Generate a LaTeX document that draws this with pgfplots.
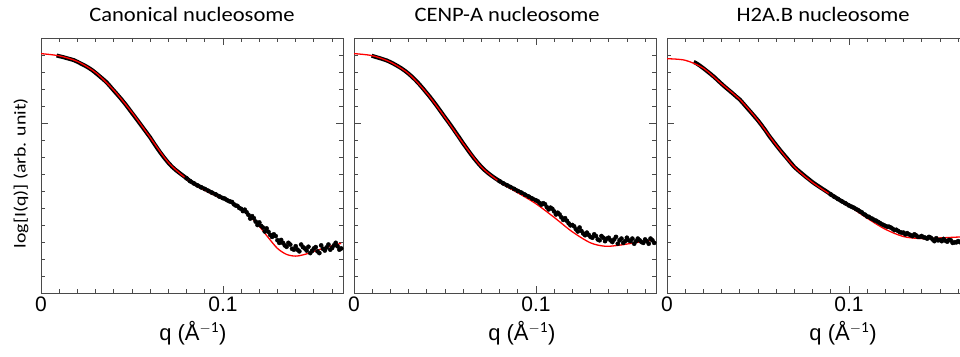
\documentclass[border=0pt]{standalone}
\usepackage{pgfplots}
\pgfplotsset{compat=1.18}
\usepackage{fontspec}
\setmainfont{Carlito}
\newfontfamily\titlefont[FakeStretch=1.1]{Carlito}
\newfontfamily\ylabfont[FakeStretch=1.2]{Carlito}
\newfontfamily\tickfont{Liberation Sans}
\definecolor{axgray}{HTML}{4A4A4A}

\pgfplotsset{panel/.style={
  scale only axis, width=302pt, height=255pt,
  xmin=0, xmax=0.166, ymin=0, ymax=15,
  xtick={0,0.1}, xticklabels={0,0.1},
  minor xtick={0.01,0.02,0.03,0.04,0.05,0.06,0.07,0.08,0.09,0.11,0.12,0.13,0.14,0.15,0.16},
  ytick={10}, yticklabels={},
  minor ytick={1,2,3,4,5,6,7,8,9,11,12,13,14},
  tick align=inside, major tick length=7pt, minor tick length=4pt,
  axis line style={axgray, line width=0.9pt},
  tick style={axgray, line width=0.8pt},
  minor tick style={axgray, line width=0.8pt},
  xticklabel style={font=\tickfont\fontsize{21}{21}\selectfont, text=black},
  xlabel={q (Å$^{\mathrm{-1}}$)},
  xlabel style={font=\tickfont\fontsize{22}{22}\selectfont, anchor=center},
  title style={font=\titlefont\fontsize{20.5}{20.5}\selectfont, anchor=center, yshift=18pt},
  band/.style={black, line width=4pt, no marks},
  data/.style={only marks, mark=*, mark size=2.1pt, black},
  fit/.style={red, line width=1.3pt, smooth, no marks},
}}

\begin{document}
\begin{tikzpicture}
\useasboundingbox (0pt,0pt) rectangle (960pt,356pt);
\clip (0pt,0pt) rectangle (960pt,356pt);

% ---------------- Panel 1 ----------------
\begin{axis}[panel, at={(41pt,63pt)}, anchor=south west,
  title={Canonical nucleosome}, title style={at={(axis description cs:0.5,1)}},
  xlabel style={at={(axis description cs:0.503,-0.157)}},
  ylabel={log[I(q)] (arb. unit)},
  ylabel style={font=\ylabfont\fontsize{16.5}{16.5}\selectfont, at={(axis description cs:-0.066,0.47)}, anchor=center}]
\addplot[band] coordinates {
(0.0086,13.97)(0.010,13.93)(0.012,13.88)(0.014,13.82)(0.016,13.76)(0.018,13.70)
(0.020,13.60)(0.022,13.49)(0.024,13.38)(0.026,13.26)(0.028,13.12)(0.030,12.95)
(0.032,12.77)(0.034,12.59)(0.036,12.40)(0.038,12.16)(0.040,11.91)(0.042,11.67)
(0.044,11.42)(0.046,11.16)(0.048,10.88)(0.050,10.59)(0.052,10.31)(0.054,10.02)
(0.056,9.73)(0.058,9.44)(0.060,9.15)(0.062,8.82)(0.064,8.50)(0.066,8.20)
(0.068,7.92)(0.070,7.66)(0.072,7.43)(0.074,7.24)(0.076,7.07)(0.078,6.91)
(0.080,6.75)(0.082,6.58)(0.084,6.45)(0.086,6.33)(0.088,6.22)(0.090,6.12)
(0.092,6.01)(0.094,5.90)(0.096,5.80)(0.098,5.68)(0.100,5.58)
};
\addplot[data] coordinates {
(0.080,6.75)(0.082,6.58)(0.084,6.45)(0.086,6.33)(0.088,6.22)(0.090,6.12)
(0.092,6.01)(0.094,5.90)(0.096,5.80)(0.098,5.68)(0.100,5.58)
(0.101,5.55)(0.102,5.48)(0.103,5.42)(0.104,5.38)(0.105,5.35)(0.106,5.22)
(0.107,5.15)(0.108,5.12)(0.109,5.00)(0.110,4.95)(0.111,4.82)(0.112,4.90)
(0.113,4.75)(0.114,4.60)(0.115,4.38)(0.116,4.52)(0.117,4.40)(0.118,4.20)
(0.119,4.00)(0.120,4.15)(0.121,3.95)(0.122,3.85)(0.123,3.62)(0.124,3.80)
(0.125,3.60)(0.126,3.42)(0.127,3.30)(0.128,3.45)(0.129,3.35)(0.130,3.10)
(0.131,2.95)(0.132,3.12)(0.133,2.95)(0.134,2.80)(0.135,2.72)(0.136,2.95)
(0.137,2.85)(0.138,2.60)(0.139,2.55)(0.140,2.75)(0.141,2.55)(0.142,2.45)
(0.143,2.85)(0.144,2.70)(0.145,2.62)(0.146,2.50)(0.147,2.72)(0.148,2.35)
(0.149,2.48)(0.150,2.62)(0.151,2.70)(0.152,2.45)(0.153,2.35)(0.154,2.80)
(0.155,2.60)(0.156,2.50)(0.157,2.68)(0.158,2.85)(0.159,2.55)(0.160,2.65)
(0.161,2.80)(0.162,2.95)(0.163,2.75)(0.164,2.55)(0.165,2.62)
};
\addplot[fit] coordinates {
(0,14.08)(0.01,13.95)(0.02,13.62)(0.03,12.97)(0.04,11.93)(0.05,10.62)
(0.06,9.15)(0.07,7.68)(0.08,6.72)(0.09,6.05)(0.10,5.55)(0.105,5.30)
(0.11,4.95)(0.115,4.50)(0.12,3.92)(0.125,3.25)(0.13,2.62)(0.135,2.27)
(0.14,2.17)(0.145,2.27)(0.15,2.45)(0.155,2.62)(0.16,2.78)(0.165,2.92)
};
\end{axis}

% ---------------- Panel 2 ----------------
\begin{axis}[panel, at={(354pt,63pt)}, anchor=south west,
  title={CENP-A nucleosome}, title style={at={(axis description cs:0.507,1)}},
  xlabel style={at={(axis description cs:0.556,-0.157)}}]
\addplot[band] coordinates {
(0.0097,13.96)(0.012,13.88)(0.014,13.82)(0.016,13.75)(0.018,13.68)
(0.020,13.58)(0.022,13.47)(0.024,13.35)(0.026,13.22)(0.028,13.07)(0.030,12.90)
(0.032,12.71)(0.034,12.50)(0.036,12.27)(0.038,12.02)(0.040,11.76)(0.042,11.50)
(0.044,11.22)(0.046,10.93)(0.048,10.63)(0.050,10.33)(0.052,10.04)(0.054,9.74)
(0.056,9.43)(0.058,9.12)(0.060,8.80)(0.062,8.50)(0.064,8.20)(0.066,7.92)
(0.068,7.66)(0.070,7.42)(0.072,7.21)(0.074,7.03)(0.076,6.87)(0.078,6.72)
(0.080,6.58)(0.082,6.45)(0.084,6.34)(0.086,6.23)(0.088,6.12)(0.090,6.00)
(0.092,5.90)(0.094,5.78)(0.096,5.67)(0.098,5.55)(0.100,5.45)
};
\addplot[data] coordinates {
(0.080,6.58)(0.082,6.45)(0.084,6.34)(0.086,6.23)(0.088,6.12)(0.090,6.00)
(0.092,5.90)(0.094,5.78)(0.096,5.67)(0.098,5.55)(0.100,5.45)
(0.101,5.40)(0.102,5.30)(0.103,5.20)(0.104,5.28)(0.105,5.22)(0.106,5.05)
(0.107,4.92)(0.108,5.02)(0.109,4.95)(0.110,4.80)(0.111,4.62)(0.112,4.72)
(0.113,4.62)(0.114,4.45)(0.115,4.30)(0.116,4.40)(0.117,4.25)(0.118,4.10)
(0.119,3.98)(0.120,4.00)(0.121,3.92)(0.122,3.75)(0.123,3.62)(0.124,3.85)
(0.125,3.65)(0.126,3.50)(0.127,3.40)(0.128,3.55)(0.129,3.42)(0.130,3.30)
(0.131,3.25)(0.132,3.45)(0.133,3.35)(0.134,3.15)(0.135,3.10)(0.136,3.35)
(0.137,3.25)(0.138,3.05)(0.139,3.20)(0.140,3.25)(0.141,3.10)(0.142,3.00)
(0.143,3.15)(0.144,3.30)(0.145,2.90)(0.146,3.10)(0.147,3.20)(0.148,2.95)
(0.149,3.05)(0.150,3.25)(0.151,3.10)(0.152,3.05)(0.153,3.20)(0.154,2.90)
(0.155,3.05)(0.156,3.20)(0.157,3.10)(0.158,3.00)(0.159,2.95)(0.160,3.15)
(0.161,3.05)(0.162,2.90)(0.163,3.20)(0.164,3.10)(0.165,2.95)
};
\addplot[fit] coordinates {
(0,14.08)(0.01,13.96)(0.02,13.58)(0.03,12.90)(0.04,11.76)(0.05,10.33)
(0.06,8.80)(0.07,7.42)(0.08,6.54)(0.09,5.90)(0.10,5.25)(0.11,4.45)
(0.12,3.60)(0.13,2.95)(0.138,2.75)(0.145,2.80)(0.15,2.88)(0.16,3.04)(0.165,3.10)
};
\end{axis}

% ---------------- Panel 3 ----------------
\begin{axis}[panel, at={(667pt,63pt)}, anchor=south west,
  title={H2A.B nucleosome}, title style={at={(axis description cs:0.517,1)}},
  xlabel style={at={(axis description cs:0.583,-0.157)}}]
\addplot[band] coordinates {
(0.0147,13.59)(0.016,13.52)(0.018,13.38)(0.020,13.22)(0.022,13.05)(0.024,12.88)
(0.026,12.70)(0.028,12.50)(0.030,12.30)(0.032,12.11)(0.034,11.93)(0.036,11.75)
(0.038,11.56)(0.040,11.38)(0.042,11.14)(0.044,10.89)(0.046,10.65)(0.048,10.40)
(0.050,10.15)(0.052,9.87)(0.054,9.58)(0.056,9.26)(0.058,8.98)(0.060,8.70)
(0.062,8.43)(0.064,8.17)(0.066,7.92)(0.068,7.66)(0.070,7.41)(0.072,7.22)
(0.074,7.04)(0.076,6.86)(0.078,6.69)(0.080,6.52)(0.082,6.37)(0.084,6.23)
(0.086,6.09)(0.088,5.95)(0.090,5.80)(0.092,5.66)(0.094,5.53)(0.096,5.40)
(0.098,5.28)(0.100,5.15)
};
\addplot[data] coordinates {
(0.090,5.80)(0.092,5.66)(0.094,5.53)(0.096,5.40)(0.098,5.28)(0.100,5.15)
(0.101,5.10)(0.102,5.05)(0.103,5.00)(0.104,4.93)(0.105,4.88)(0.106,4.80)
(0.107,4.75)(0.108,4.65)(0.109,4.60)(0.110,4.50)(0.111,4.48)(0.112,4.40)
(0.113,4.36)(0.114,4.28)(0.115,4.25)(0.116,4.18)(0.117,4.12)(0.118,4.05)
(0.119,4.00)(0.120,3.95)(0.121,3.90)(0.122,3.90)(0.123,3.85)(0.124,3.78)
(0.125,3.70)(0.126,3.72)(0.127,3.65)(0.128,3.58)(0.129,3.55)(0.130,3.55)
(0.131,3.45)(0.132,3.52)(0.133,3.45)(0.134,3.40)(0.135,3.35)(0.136,3.45)
(0.137,3.38)(0.138,3.30)(0.139,3.30)(0.140,3.35)(0.141,3.28)(0.142,3.25)
(0.143,3.20)(0.144,3.30)(0.145,3.25)(0.146,3.15)(0.147,3.05)(0.148,3.22)
(0.149,3.10)(0.150,3.12)(0.151,3.05)(0.152,3.18)(0.153,3.08)(0.154,3.02)
(0.155,3.12)(0.156,3.10)(0.157,2.95)(0.158,2.98)(0.159,2.98)(0.160,3.05)
(0.161,3.00)(0.162,2.92)(0.163,2.95)(0.164,3.02)
};
\addplot[fit] coordinates {
(0,13.78)(0.01,13.69)(0.02,13.22)(0.03,12.30)(0.04,11.38)(0.05,10.15)
(0.06,8.70)(0.07,7.41)(0.08,6.50)(0.09,5.78)(0.10,5.12)(0.11,4.40)
(0.12,3.75)(0.13,3.32)(0.14,3.20)(0.15,3.24)(0.16,3.29)(0.166,3.30)
};
\end{axis}
\end{tikzpicture}
\end{document}
